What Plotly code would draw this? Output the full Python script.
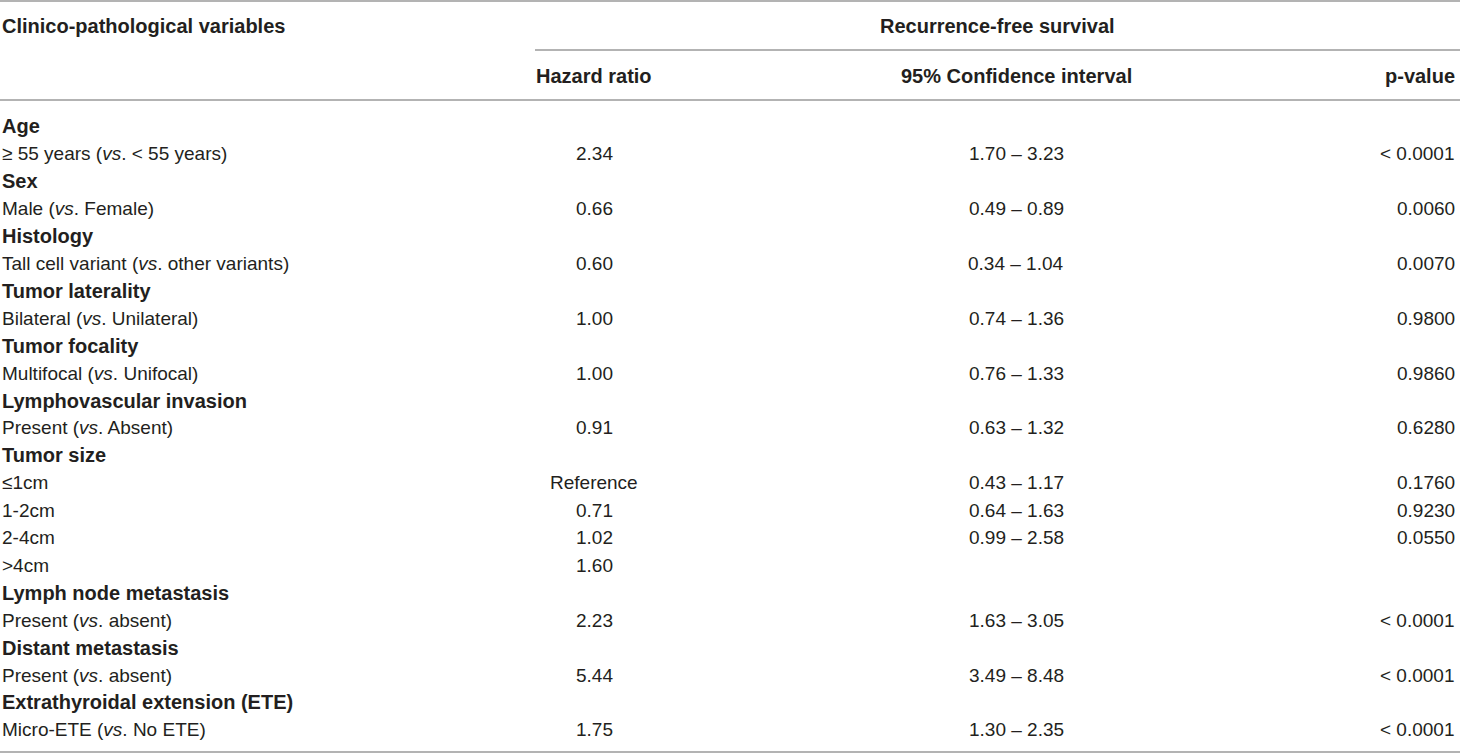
import plotly.graph_objects as go

# table content
labels = ["Age", "≥ 55 years (<i>vs</i>. < 55 years)",
          "Sex", "Male (<i>vs</i>. Female)",
          "Histology", "Tall cell variant (<i>vs</i>. other variants)",
          "Tumor laterality", "Bilateral (<i>vs</i>. Unilateral)",
          "Tumor focality", "Multifocal (<i>vs</i>. Unifocal)",
          "Lymphovascular invasion", "Present (<i>vs</i>. Absent)",
          "Tumor size", "≤1cm", "1-2cm", "2-4cm", ">4cm",
          "Lymph node metastasis", "Present (<i>vs</i>. absent)",
          "Distant metastasis", "Present (<i>vs</i>. absent)",
          "Extrathyroidal extension (ETE)", "Micro-ETE (<i>vs</i>. No ETE)"]
is_group = [True, False, True, False, True, False, True, False, True, False,
            True, False, True, False, False, False, False, True, False,
            True, False, True, False]
hazard = ["", "2.34", "", "0.66", "", "0.60", "", "1.00", "", "1.00", "", "0.91",
          "", "Reference", "0.71", "1.02", "1.60", "", "2.23", "", "5.44", "", "1.75"]
ci = ["", "1.70 – 3.23", "", "0.49 – 0.89", "", "0.34 – 1.04", "", "0.74 – 1.36",
      "", "0.76 – 1.33", "", "0.63 – 1.32", "", "0.43 – 1.17", "0.64 – 1.63",
      "0.99 – 2.58", "", "", "1.63 – 3.05", "", "3.49 – 8.48", "", "1.30 – 2.35"]
pvals = ["", "< 0.0001", "", "0.0060", "", "0.0070", "", "0.9800", "", "0.9860",
         "", "0.6280", "", "0.1760", "0.9230", "0.0550", "", "", "< 0.0001",
         "", "< 0.0001", "", "< 0.0001"]

W, H = 1460, 754
FONT = "Liberation Sans, Arial, sans-serif"
TXT = "#231f20"
LINE = "#9a9a9a"

fig = go.Figure()
fig.add_trace(go.Scatter(x=[0], y=[0], mode="markers", marker=dict(opacity=0),
                         hoverinfo="skip", showlegend=False))

ann = []
def txt(x, y, s, anchor, bold=False):
    ann.append(dict(x=x, y=y, text=("<b>%s</b>" % s) if bold else s,
                    xanchor=anchor, yanchor="middle", showarrow=False,
                    font=dict(family=FONT, size=20 if bold else 19, color=TXT)))

# header
txt(0, 26, "Clinico-pathological variables", "left", True)
txt(997, 26, "Recurrence-free survival", "center", True)
txt(594, 76, "Hazard ratio", "center", True)
txt(1016, 76, "95% Confidence interval", "center", True)
txt(1457, 76, "p-value", "right", True)

row0, step = 126, 27.45
for i, lab in enumerate(labels):
    y = row0 + i * step
    txt(0, y, lab, "left", is_group[i])
    if hazard[i]:
        txt(594, y, hazard[i], "center")
    if ci[i]:
        txt(1016, y, ci[i], "center")
    if pvals[i]:
        txt(1457, y, pvals[i], "right")

shapes = [
    dict(type="line", x0=0, x1=W, y0=1, y1=1, line=dict(color=LINE, width=1.5)),
    dict(type="line", x0=535, x1=W, y0=50, y1=50, line=dict(color=LINE, width=1.5)),
    dict(type="line", x0=0, x1=W, y0=100, y1=100, line=dict(color=LINE, width=1.5)),
    dict(type="line", x0=0, x1=W, y0=752, y1=752, line=dict(color=LINE, width=1.5)),
]

fig.update_layout(
    width=W, height=H, margin=dict(l=0, r=0, t=0, b=0),
    paper_bgcolor="white", plot_bgcolor="white",
    xaxis=dict(range=[0, W], visible=False, fixedrange=True),
    yaxis=dict(range=[H, 0], visible=False, fixedrange=True),
    annotations=ann, shapes=shapes,
)

fig.write_html("out.html", config={"displayModeBar": False},
               post_script="document.body.style.margin='0';document.body.style.overflow='hidden';")
